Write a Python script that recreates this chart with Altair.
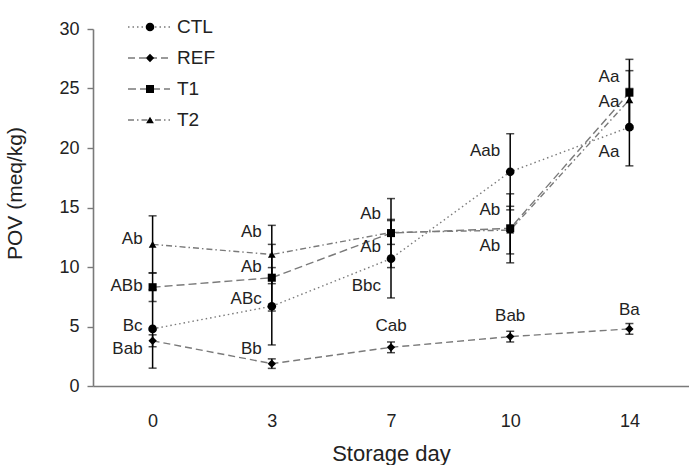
import altair as alt
import pandas as pd

# Peroxide value (meq/kg) by storage day, mean and SD per treatment
days = [0, 3, 7, 10, 14]
series = ["CTL", "REF", "T1", "T2"]

ctl_mean = [4.8, 6.7, 10.7, 18.0, 21.75]
ctl_sd = [3.3, 3.25, 3.3, 3.2, 3.25]
ref_mean = [3.8, 1.88, 3.25, 4.15, 4.8]
ref_sd = [0.5, 0.4, 0.45, 0.45, 0.45]
t1_mean = [8.3, 9.1, 12.85, 13.25, 24.65]
t1_sd = [1.2, 2.8, 2.9, 2.9, 2.8]
t2_mean = [11.9, 11.05, 12.9, 13.1, 24.05]
t2_sd = [2.4, 2.45, 1.0, 2.0, 2.45]

# significance letters
ctl_letters = ["Bc", "ABc", "Bbc", "Aab", "Aa"]
ref_letters = ["Bab", "Bb", "Cab", "Bab", "Ba"]
t1_letters = ["ABb", "Ab", "Ab", "Ab", "Aa"]
t2_letters = ["Ab", "Ab", "Ab", "Ab", "Aa"]

means = {"CTL": ctl_mean, "REF": ref_mean, "T1": t1_mean, "T2": t2_mean}
sds = {"CTL": ctl_sd, "REF": ref_sd, "T1": t1_sd, "T2": t2_sd}
letters = {"CTL": ctl_letters, "REF": ref_letters, "T1": t1_letters, "T2": t2_letters}

# label placement (vertical shift in axis units, side of the marker)
label_shift = {
    "CTL": [0.28, 0.65, -2.26, 1.75, -2.05],
    "REF": [-0.73, 1.19, 1.78, 1.72, 1.57],
    "T1": [0.08, 0.87, -1.2, 1.56, 1.33],
    "T2": [0.45, 1.89, 1.55, -1.36, -0.16],
}
label_side = {
    "CTL": ["left"] * 5,
    "REF": ["left", "left", "above", "above", "above"],
    "T1": ["left"] * 5,
    "T2": ["left"] * 5,
}

rows = []
for s in series:
    for i, d in enumerate(days):
        m, sd = means[s][i], sds[s][i]
        rows.append(dict(series=s, day=str(d), mean=m, lo=m - sd, hi=m + sd,
                         letter=letters[s][i], label_y=m + label_shift[s][i],
                         side=label_side[s][i]))
df = pd.DataFrame(rows)

FONT = "Liberation Sans"
GREY = "#7a7a7a"
TEXT = "#222222"
day_order = [str(d) for d in days]
dash_range = [[1.5, 3], [7, 4], [8, 4], [6, 3, 1.5, 3]]
shape_range = ["circle", "diamond", "square", "triangle-up"]
size_range = [75, 60, 80, 75]

x_axis = alt.Axis(ticks=False, tickSize=0, labelPadding=26, labelAngle=0,
                  labelFontSize=18, titleFontSize=22, titleFontWeight="normal",
                  titleY=74, titleBaseline="alphabetic", domainColor=GREY,
                  domainWidth=1.6, labelColor=TEXT, titleColor=TEXT)
y_axis = alt.Axis(values=[0, 5, 10, 15, 20, 25, 30], tickSize=6, tickColor=GREY,
                  tickWidth=1.4, labelPadding=8, labelFontSize=18, titleFontSize=21,
                  titleFontWeight="normal", titleX=-78, titleY=164,
                  titleBaseline="middle", domainColor=GREY, domainWidth=1.6,
                  grid=False, labelColor=TEXT, titleColor=TEXT)


def xenc():
    return alt.X("day:O", sort=day_order, scale=alt.Scale(type="point", padding=0.5),
                 axis=x_axis, title="Storage day")


def yenc(field):
    return alt.Y(f"{field}:Q", scale=alt.Scale(domain=[0, 30], nice=False),
                 axis=y_axis, title="POV (meq/kg)")


dash_enc = alt.StrokeDash("series:N", scale=alt.Scale(domain=series, range=dash_range), legend=None)
shape_enc = alt.Shape("series:N", scale=alt.Scale(domain=series, range=shape_range), legend=None)
size_enc = alt.Size("series:N", scale=alt.Scale(domain=series, range=size_range), legend=None)

base = alt.Chart(df)

lines = base.mark_line(color=GREY, strokeWidth=1.4).encode(
    x=xenc(), y=yenc("mean"), strokeDash=dash_enc, detail="series:N")

err = base.mark_rule(color="black", strokeWidth=1.5).encode(
    x=xenc(), y=yenc("lo"), y2="hi:Q")
cap_lo = base.mark_tick(color="black", thickness=1.5, size=8).encode(x=xenc(), y=yenc("lo"))
cap_hi = base.mark_tick(color="black", thickness=1.5, size=8).encode(x=xenc(), y=yenc("hi"))

points = base.mark_point(filled=True, color="black", opacity=1).encode(
    x=xenc(), y=yenc("mean"), shape=shape_enc, size=size_enc)

labels_left = base.transform_filter(alt.datum.side == "left").mark_text(
    align="right", baseline="middle", dx=-10, font=FONT, fontSize=17, color=TEXT
).encode(x=xenc(), y=yenc("label_y"), text="letter:N")
labels_above = base.transform_filter(alt.datum.side == "above").mark_text(
    align="center", baseline="middle", font=FONT, fontSize=17, color=TEXT
).encode(x=xenc(), y=yenc("label_y"), text="letter:N")

main = alt.layer(lines, err, cap_lo, cap_hi, points, labels_left, labels_above)

# legend drawn in the upper-left corner of the plot
leg = alt.Chart(pd.DataFrame({"series": series}))
leg_y = alt.Y("series:N", sort=series,
              scale=alt.Scale(type="point", domain=series, range=[-2, 91], padding=0),
              axis=None)
leg_line = leg.mark_rule(color=GREY, strokeWidth=1.4).encode(
    x=alt.value(35), x2=alt.value(77), y=leg_y, strokeDash=dash_enc)
leg_pt = leg.mark_point(filled=True, color="black", opacity=1).encode(
    x=alt.value(57), y=leg_y, shape=shape_enc, size=size_enc)
leg_txt = leg.mark_text(align="left", baseline="middle", font=FONT, fontSize=19,
                        color=TEXT).encode(x=alt.value(84), y=leg_y, text="series:N")
legend = alt.layer(leg_line, leg_pt, leg_txt)

chart = alt.layer(main, legend).resolve_scale(y="independent").properties(
    width=596, height=357,
    padding={"left": 93, "top": 29, "right": 0, "bottom": 79},
    autosize=alt.AutoSizeParams(type="none"),
).configure_view(stroke=None).configure_axis(labelFont=FONT, titleFont=FONT)

chart.save("out.html", embed_options={"renderer": "svg", "actions": False})
